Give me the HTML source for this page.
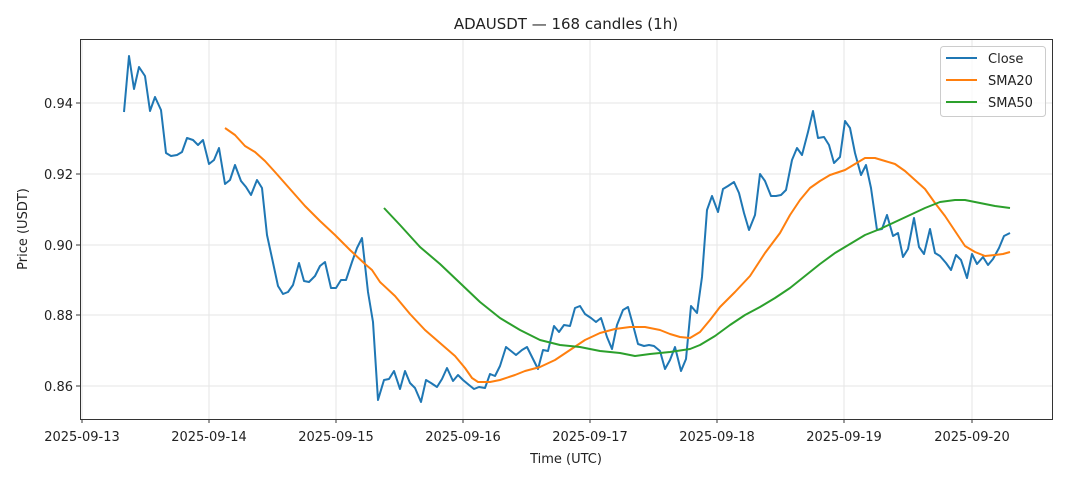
<!DOCTYPE html>
<html><head><style>body{margin:0;background:#fff}</style></head><body>
<svg width="1068" height="481" xmlns="http://www.w3.org/2000/svg" font-family="DejaVu Sans, Liberation Sans, sans-serif">
<rect width="1068" height="481" fill="#fff"/>
<g stroke="#e6e6e6" stroke-width="1">
<line x1="82" y1="39" x2="82" y2="419"/><line x1="209" y1="39" x2="209" y2="419"/><line x1="336" y1="39" x2="336" y2="419"/><line x1="463" y1="39" x2="463" y2="419"/><line x1="590" y1="39" x2="590" y2="419"/><line x1="717" y1="39" x2="717" y2="419"/><line x1="844" y1="39" x2="844" y2="419"/><line x1="972" y1="39" x2="972" y2="419"/>
<line x1="80" y1="103" x2="1052" y2="103"/><line x1="80" y1="174" x2="1052" y2="174"/><line x1="80" y1="245" x2="1052" y2="245"/><line x1="80" y1="315" x2="1052" y2="315"/><line x1="80" y1="386" x2="1052" y2="386"/>
</g>
<g fill="none" stroke-width="2" stroke-linejoin="round">
<polyline stroke="#1f77b4" points="124,112 129,56 134,89 139,67 145,76 150,111 155,97 161,110 166,153 171,156 177,155 182,152 187,138 193,140 198,145 203,140 209,164 214,160 219,148 225,184 230,180 235,165 241,181 246,187 251,195 257,180 262,188 267,235 272,258 278,286 283,294 288,292 293,285 299,263 304,281 309,282 315,276 320,266 325,262 331,288 336,288 341,280 346,280 352,262 357,248 362,238 368,292 373,322 378,400 384,380 389,379 394,371 400,389 405,371 410,383 415,388 421,402 426,380 431,383 437,387 442,379 447,368 453,381 458,375 463,380 469,385 474,389 479,387 485,388 490,374 495,376 500,366 506,347 511,351 516,355 522,350 527,347 532,357 538,369 543,350 548,351 554,326 559,332 564,325 570,326 575,308 580,306 585,314 591,318 596,322 601,318 607,337 612,349 617,325 623,310 628,307 633,325 638,344 644,346 649,345 654,346 660,351 665,369 670,360 675,347 681,371 686,359 691,306 697,313 702,277 707,210 712,196 718,212 723,189 728,186 734,182 739,193 744,213 749,230 755,215 760,174 765,181 771,196 776,196 781,195 786,190 792,160 797,148 802,155 808,132 813,111 818,138 824,137 829,145 834,163 840,157 845,121 850,128 855,153 861,175 866,165 871,188 877,230 882,229 887,215 893,236 898,233 903,257 908,249 914,218 919,247 924,254 930,229 935,253 940,256 946,263 951,270 956,255 961,260 967,278 972,254 977,264 983,257 988,265 993,259 999,248 1004,236 1010,233"/>
<polyline stroke="#ff7f0e" points="225,128 235,135 245,146 255,152 265,161 275,172 290,189 305,206 320,221 335,235 350,250 365,264 372,270 380,282 395,296 410,314 425,330 440,343 455,356 465,368 472,378 478,382 490,382 500,380 515,375 525,371 540,367 555,360 570,350 585,340 600,333 615,329 630,327 645,327 660,330 670,334 680,337 690,338 700,332 710,320 720,307 735,292 750,276 765,253 780,233 790,215 800,200 810,188 820,181 830,175 845,170 855,164 865,158 875,158 885,161 895,164 905,171 915,180 925,189 935,203 945,216 955,231 965,246 975,252 985,256 995,255 1003,254 1010,252"/>
<polyline stroke="#2ca02c" points="384,208 400,225 420,247 440,264 460,283 480,302 500,318 520,330 540,340 560,345 580,347 600,351 620,353 635,356 650,354 670,352 690,349 700,345 715,336 730,325 745,315 760,307 775,298 790,288 805,276 820,264 835,253 850,244 865,235 880,229 895,222 910,215 925,208 940,202 955,200 965,200 980,203 995,206 1010,208"/>
</g>
<rect x="80.5" y="39.5" width="972" height="380" fill="none" stroke="#333" stroke-width="1"/>
<g stroke="#333"><line x1="82" y1="419" x2="82" y2="423"/><line x1="209" y1="419" x2="209" y2="423"/><line x1="336" y1="419" x2="336" y2="423"/><line x1="463" y1="419" x2="463" y2="423"/><line x1="590" y1="419" x2="590" y2="423"/><line x1="717" y1="419" x2="717" y2="423"/><line x1="844" y1="419" x2="844" y2="423"/><line x1="972" y1="419" x2="972" y2="423"/>
<line x1="76" y1="103" x2="80" y2="103"/><line x1="76" y1="174" x2="80" y2="174"/><line x1="76" y1="245" x2="80" y2="245"/><line x1="76" y1="315" x2="80" y2="315"/><line x1="76" y1="386" x2="80" y2="386"/></g>
<g font-size="13" fill="#222" text-anchor="middle">
<text x="82" y="441">2025-09-13</text><text x="209" y="441">2025-09-14</text><text x="336" y="441">2025-09-15</text><text x="463" y="441">2025-09-16</text><text x="590" y="441">2025-09-17</text><text x="717" y="441">2025-09-18</text><text x="844" y="441">2025-09-19</text><text x="972" y="441">2025-09-20</text>
</g>
<g font-size="13" fill="#222" text-anchor="end">
<text x="73" y="108">0.94</text><text x="73" y="179">0.92</text><text x="73" y="250">0.90</text><text x="73" y="320">0.88</text><text x="73" y="391">0.86</text>
</g>
<text x="566" y="463" font-size="13" text-anchor="middle" fill="#222">Time (UTC)</text>
<text transform="translate(27,229) rotate(-90)" font-size="13" text-anchor="middle" fill="#222">Price (USDT)</text>
<text x="566" y="29" font-size="15" text-anchor="middle" fill="#222">ADAUSDT — 168 candles (1h)</text>
<rect x="940.5" y="46.5" width="105" height="70" rx="3" fill="#fff" fill-opacity="0.8" stroke="#ccc"/>
<line x1="946" y1="58" x2="977" y2="58" stroke="#1f77b4" stroke-width="2"/>
<line x1="946" y1="80" x2="977" y2="80" stroke="#ff7f0e" stroke-width="2"/>
<line x1="946" y1="102" x2="977" y2="102" stroke="#2ca02c" stroke-width="2"/>
<g font-size="13" fill="#222"><text x="988" y="63">Close</text><text x="988" y="85">SMA20</text><text x="988" y="107">SMA50</text></g>
</svg>
</body></html>
